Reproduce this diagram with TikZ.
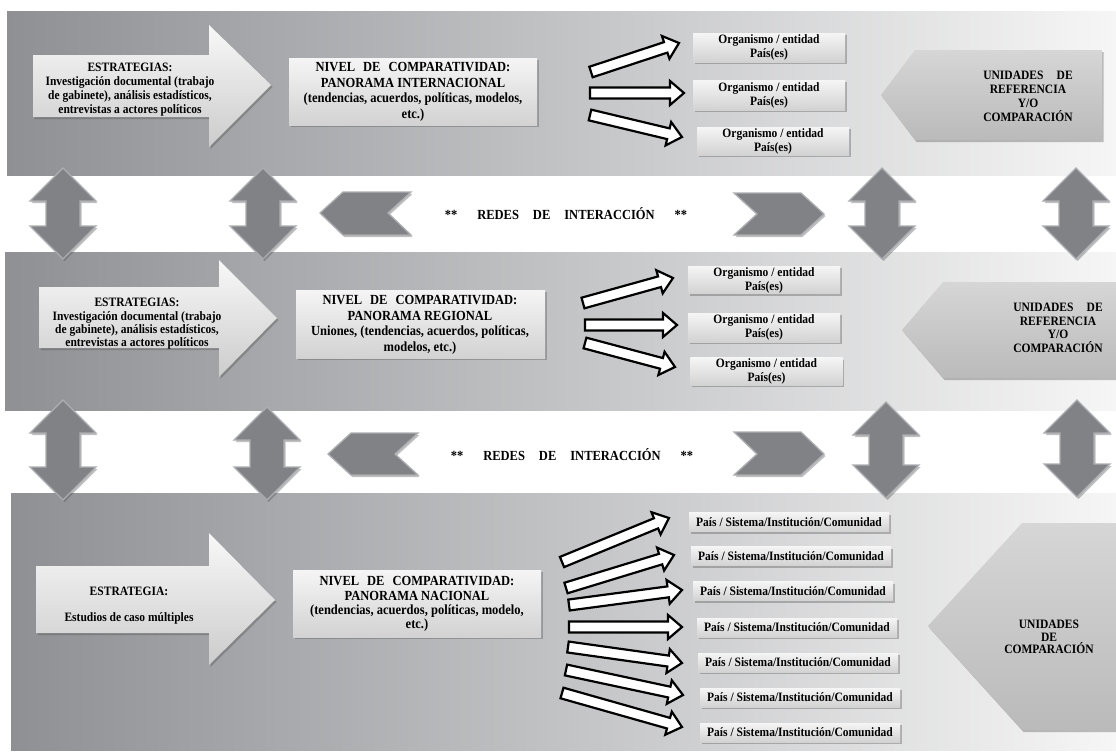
\documentclass[tikz,border=0pt]{standalone}
\usepackage{fontspec}
\setmainfont{Liberation Serif}[FakeStretch=0.9]
\usepackage{calc}
\usetikzlibrary{calc,shadows}

\definecolor{bandL}{RGB}{142,144,148}
\definecolor{bandR}{RGB}{246,246,246}
\definecolor{dgray}{RGB}{128,130,134}
\definecolor{dgrayedge}{RGB}{172,174,177}
\definecolor{boxtop}{RGB}{245,245,245}
\definecolor{boxbot}{RGB}{210,210,210}
\definecolor{penttop}{RGB}{214,214,214}
\definecolor{pentbot}{RGB}{186,186,186}
\definecolor{arrtop}{RGB}{248,248,248}
\definecolor{arrbot}{RGB}{204,204,204}

\tikzset{
  myshadow/.style={drop shadow={shadow xshift=1.5pt,shadow yshift=-2pt,opacity=0.35,fill=black!70}},
  band/.style={left color=bandL, right color=bandR},
  stratarrow/.style={myshadow, top color=arrtop, bottom color=arrbot},
  levelbox/.style={myshadow, top color=boxtop, bottom color=boxbot},
  pent/.style={myshadow, top color=penttop, bottom color=pentbot},
  bigtxt/.style={font=\bfseries\fontsize{13.9}{15.5}\selectfont, align=center, inner sep=0pt},
  stxt/.style={font=\bfseries\fontsize{12.8}{14}\selectfont, align=center, inner sep=0pt},
  unitbox/.style={myshadow, top color=boxtop, bottom color=boxbot, font=\bfseries\fontsize{12.8}{14}\selectfont, align=center, inner sep=1pt},
  darrow/.style={myshadow, fill=dgray, draw=dgrayedge, line width=1.3pt, line join=miter},
  warrowstyle/.style={fill=white, draw=black, line width=2.2pt, line join=miter},
}

\newcommand\vdarrow[3]{%
  \draw[darrow] (#1,#2) -- ++(33,33) -- ++(-16,0) -- (#1+17,#3-33) -- ++(16,0) -- (#1,#3)
    -- ++(-33,-33) -- ++(16,0) -- (#1-17,#2+33) -- ++(-16,0) -- cycle;
}

\newcommand\whitearrow[2]{%
  \path (#1); \pgfgetlastxy{\wax}{\way}%
  \path (#2); \pgfgetlastxy{\wbx}{\wby}%
  \pgfmathsetmacro\wang{atan2(\wby-\way,\wbx-\wax)}%
  \pgfmathsetmacro\wlen{veclen(\wbx-\wax,\wby-\way)}%
  \pgfmathsetmacro\wneck{\wlen-14}%
  \draw[warrowstyle, shift={(\wax,\way)}, rotate=\wang]
    (0pt,-5.5pt) -- (\wneck pt,-5.5pt) -- (\wneck pt,-12pt) -- (\wlen pt,0pt)
    -- (\wneck pt,12pt) -- (\wneck pt,5.5pt) -- (0pt,5.5pt) -- cycle;
}

\newcommand\nivelhead{NIVEL\hspace{8pt}DE\hspace{8pt}COMPARATIVIDAD:}
\newcommand\redestext{**\hspace{20pt}REDES\hspace{14pt}DE\hspace{14pt}INTERACCIÓN\hspace{20pt}**}

\begin{document}
\begin{tikzpicture}[x=1pt,y=-1pt]
\useasboundingbox (0,0) rectangle (1116,755);
\fill[white] (0,0) rectangle (1116,755);

% bands
\fill[band] (7,11) rectangle (1116,175);
\fill[band] (5,252) rectangle (1116,410);
\fill[band] (11,493) rectangle (1116,750);

% ---------- band 1 ----------
\path[stratarrow] (33,55) -- (209,55) -- (209,25) -- (271,85) -- (209,147) -- (209,117) -- (33,117) -- cycle;
\node[stxt] (s1) at (130,90) {ESTRATEGIAS:\\Investigación documental (trabajo\\de gabinete), análisis estadísticos,\\entrevistas a actores políticos};
\path[levelbox] (289,58) rectangle (537,125);
\node[bigtxt] (n1) at (413,92) {\nivelhead\\PANORAMA INTERNACIONAL\\(tendencias, acuerdos, políticas, modelos,\\etc.)};

\node[unitbox, minimum width=152pt, minimum height=29pt] (o11) at (769,47.5) {Organismo / entidad\\País(es)};
\node[unitbox, minimum width=152pt, minimum height=30pt] (o12) at (769,95) {Organismo / entidad\\País(es)};
\node[unitbox, minimum width=152pt, minimum height=28pt] (o13) at (773,141) {Organismo / entidad\\País(es)};

\coordinate (t11) at (591,72);  \coordinate (h11) at (679,43);
\coordinate (t12) at (590,93);  \coordinate (h12) at (684,93);
\coordinate (t13) at (590,115); \coordinate (h13) at (682,137);
\whitearrow{t11}{h11}
\whitearrow{t12}{h12}
\whitearrow{t13}{h13}

\path[pent] (881,95) -- (915,50) -- (1102,50) -- (1102,140) -- (915,140) -- cycle;
\node[stxt] (u1) at (1028,96) {\makebox[\widthof{COMPARACIÓN}][s]{UNIDADES\hfill DE}\\REFERENCIA\\Y/O\\COMPARACIÓN};

% ---------- band 2 ----------
\path[stratarrow] (39,287) -- (219,287) -- (219,260) -- (277,318) -- (219,377) -- (219,348) -- (39,348) -- cycle;
\node[stxt, font=\bfseries\fontsize{12.8}{13.3}\selectfont] (s2) at (137,324) {ESTRATEGIAS:\\Investigación documental (trabajo\\de gabinete), análisis estadísticos,\\entrevistas a actores políticos};
\path[levelbox] (296,290) rectangle (545,358);
\node[bigtxt] (n2) at (420,325) {\nivelhead\\PANORAMA REGIONAL\\Uniones, (tendencias, acuerdos, políticas,\\modelos, etc.)};

\node[unitbox, minimum width=152pt, minimum height=26pt] (o21) at (764,280) {Organismo / entidad\\País(es)};
\node[unitbox, minimum width=152pt, minimum height=29pt] (o22) at (764,327.5) {Organismo / entidad\\País(es)};
\node[unitbox, minimum width=152pt, minimum height=27pt] (o23) at (766.5,371.5) {Organismo / entidad\\País(es)};

\coordinate (t21) at (583,303); \coordinate (h21) at (673,278);
\coordinate (t22) at (585,325); \coordinate (h22) at (677,325);
\coordinate (t23) at (585,343); \coordinate (h23) at (675,367);
\whitearrow{t21}{h21}
\whitearrow{t22}{h22}
\whitearrow{t23}{h23}

\path[pent] (902,330) -- (943,282) -- (1116,282) -- (1116,378) -- (943,378) -- cycle;
\node[stxt, font=\bfseries\fontsize{12.8}{13.5}\selectfont] (u2) at (1058,328) {\makebox[\widthof{COMPARACIÓN}][s]{UNIDADES\hfill DE}\\REFERENCIA\\Y/O\\COMPARACIÓN};

% ---------- band 3 ----------
\path[stratarrow] (36,566) -- (209,566) -- (209,533) -- (275,600) -- (209,665) -- (209,633) -- (36,633) -- cycle;
\node[stxt, font=\bfseries\fontsize{12.8}{26}\selectfont] (s3) at (129,606) {ESTRATEGIA:\\Estudios de caso múltiples};
\path[levelbox] (293,570) rectangle (541,637);
\node[bigtxt, font=\bfseries\fontsize{13.9}{14.2}\selectfont] (n3) at (417,604) {\nivelhead\\PANORAMA NACIONAL\\(tendencias, acuerdos, políticas, modelo,\\etc.)};

\node[unitbox, minimum width=200pt, minimum height=19pt] (p1) at (789,522) {País / Sistema/Institución/Comunidad};
\node[unitbox, minimum width=200pt, minimum height=19pt] (p2) at (791,556) {País / Sistema/Institución/Comunidad};
\node[unitbox, minimum width=200pt, minimum height=19pt] (p3) at (793,591) {País / Sistema/Institución/Comunidad};
\node[unitbox, minimum width=200pt, minimum height=19pt] (p4) at (797,627.5) {País / Sistema/Institución/Comunidad};
\node[unitbox, minimum width=200pt, minimum height=19pt] (p5) at (798,662.5) {País / Sistema/Institución/Comunidad};
\node[unitbox, minimum width=200pt, minimum height=19pt] (p6) at (800,697.5) {País / Sistema/Institución/Comunidad};
\node[unitbox, minimum width=200pt, minimum height=19pt] (p7) at (800,732.5) {País / Sistema/Institución/Comunidad};

\coordinate (t31) at (562,562); \coordinate (h31) at (669,518);
\coordinate (t32) at (566,588); \coordinate (h32) at (674,555);
\coordinate (t33) at (569,605); \coordinate (h33) at (682,590);
\coordinate (t34) at (569,627); \coordinate (h34) at (682,627);
\coordinate (t35) at (568,647); \coordinate (h35) at (682,663);
\coordinate (t36) at (566,670); \coordinate (h36) at (683,695);
\coordinate (t37) at (562,693); \coordinate (h37) at (682,727);
\whitearrow{t31}{h31}
\whitearrow{t32}{h32}
\whitearrow{t33}{h33}
\whitearrow{t34}{h34}
\whitearrow{t35}{h35}
\whitearrow{t36}{h36}
\whitearrow{t37}{h37}

\path[pent] (928,626) -- (1022,523) -- (1116,523) -- (1116,730) -- (1022,730) -- cycle;
\node[stxt, font=\bfseries\fontsize{12.8}{12.8}\selectfont] (u3) at (1049,637) {UNIDADES\\DE\\COMPARACIÓN};

% ---------- interaction strips ----------
\vdarrow{63}{168}{259}
\vdarrow{263}{168}{259}
\vdarrow{882}{168}{259}
\vdarrow{1076}{168}{259}

\draw[darrow] (320,213) -- (343,192) -- (411,192) -- (388,213) -- (411,235) -- (343,235) -- cycle;
\draw[darrow] (734,193) -- (801,193) -- (824,214) -- (801,235) -- (734,235) -- (757,214) -- cycle;
\node[bigtxt] (r1) at (566,214) {\redestext};

\vdarrow{63}{400}{500}
\vdarrow{267}{407}{500}
\vdarrow{886}{402}{498}
\vdarrow{1077}{400}{497}

\draw[darrow] (328,454) -- (351,433) -- (418,433) -- (395,454) -- (418,475) -- (351,475) -- cycle;
\draw[darrow] (734,432) -- (801,432) -- (824,454) -- (801,475) -- (734,475) -- (757,454) -- cycle;
\node[bigtxt] (r2) at (572,455) {\redestext};

\end{tikzpicture}
\end{document}
